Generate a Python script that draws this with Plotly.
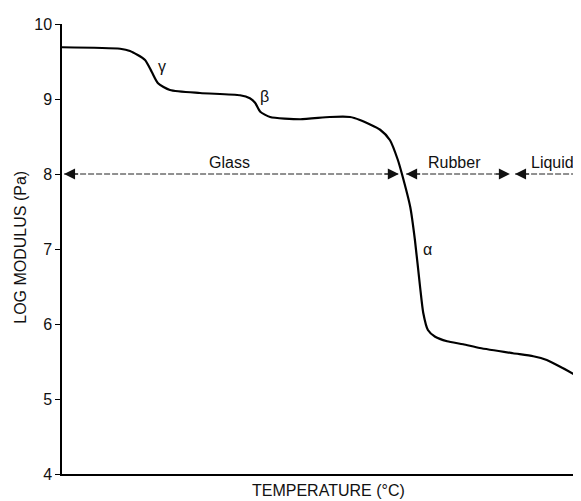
import plotly.graph_objects as go

# temperature axis has no scale in the source, so use 0..100 arbitrary units
temperature = [0, 11.2, 13.1, 16.0, 17.3, 18.5, 20.8, 26.6, 34.3, 36.2, 37.2, 38.2,
               40.1, 45.9, 51.6, 55.5, 57.4, 61.3, 63.2, 64.7, 65.5, 67.1, 68.0,
               69.0, 69.6, 70.5, 71.9, 74.2, 77.3, 80.5, 86.9, 90.8, 93.4, 96.0, 100]
log_modulus = [9.69, 9.67, 9.64, 9.52, 9.36, 9.21, 9.12, 9.08, 9.05, 9.01, 8.95, 8.83,
               8.76, 8.73, 8.76, 8.76, 8.72, 8.59, 8.45, 8.19, 8.0, 7.56, 7.12,
               6.49, 6.15, 5.92, 5.83, 5.77, 5.73, 5.68, 5.61, 5.57, 5.52, 5.43, 5.28]

# regions marked at log modulus = 8
region_names = ["Glass", "Rubber", "Liquid"]
region_start = [0.4, 66.3, 87.3]
region_end = [64.9, 86.3, 100]
region_label_x = [32.2, 75.7, 94.6]
region_level = 8

# relaxation labels
relax_names = ["γ", "β", "α"]
relax_x = [19.3, 39.1, 70.5]
relax_y = [9.43, 9.03, 6.99]

font = "Liberation Sans"

fig = go.Figure()

fig.add_trace(go.Scatter(
    x=temperature, y=log_modulus, mode="lines",
    line=dict(color="black", width=2.2, shape="spline", smoothing=0.6),
    hoverinfo="skip", showlegend=False,
))

# dashed level lines
for s, e in zip(region_start, region_end):
    fig.add_trace(go.Scatter(
        x=[s, e], y=[region_level, region_level], mode="lines",
        line=dict(color="#222", width=1, dash="6px,2px"),
        hoverinfo="skip", showlegend=False,
    ))

# arrow heads (Liquid has none on its right end)
for i, (s, e) in enumerate(zip(region_start, region_end)):
    fig.add_annotation(x=s, y=region_level, ax=s + 3, ay=region_level,
                       xref="x", yref="y", axref="x", ayref="y", text="",
                       showarrow=True, arrowhead=2, arrowsize=2.2, arrowwidth=1,
                       arrowcolor="#111")
    if i < len(region_names) - 1:
        fig.add_annotation(x=e, y=region_level, ax=e - 3, ay=region_level,
                           xref="x", yref="y", axref="x", ayref="y", text="",
                           showarrow=True, arrowhead=2, arrowsize=2.2, arrowwidth=1,
                           arrowcolor="#111")

for name, lx in zip(region_names, region_label_x):
    fig.add_annotation(x=lx, y=region_level, text=name, showarrow=False,
                       yanchor="bottom", yshift=1,
                       font=dict(family=font, size=16, color="#111"))

for name, rx, ry in zip(relax_names, relax_x, relax_y):
    fig.add_annotation(x=rx, y=ry, text=name, showarrow=False,
                       font=dict(family=font, size=16, color="#111"))

# axis titles as annotations for exact placement
fig.add_annotation(text="LOG MODULUS (Pa)", xref="paper", yref="paper",
                   x=-0.079, y=0.505, xanchor="center", yanchor="middle",
                   textangle=-90, showarrow=False,
                   font=dict(family=font, size=16, color="#111"))
fig.add_annotation(text="TEMPERATURE (°C)", xref="paper", yref="paper",
                   x=0.513, y=-0.036, xanchor="center", yanchor="middle",
                   showarrow=False,
                   font=dict(family=font, size=16, color="#111"))

fig.update_xaxes(range=[0, 100], showgrid=False, zeroline=False,
                 showline=True, linecolor="black", linewidth=1.5,
                 showticklabels=False, ticks="")
fig.update_yaxes(range=[4, 10], showgrid=False, zeroline=False,
                 showline=True, linecolor="black", linewidth=1.5,
                 tickvals=[4, 5, 6, 7, 8, 9, 10], ticks="outside", ticklen=5,
                 tickwidth=1.2, tickcolor="black",
                 tickfont=dict(family=font, size=16, color="#111"))

# sized so the plot area lands where the reference's does
fig.update_layout(
    width=573, height=493,
    margin=dict(l=54, r=0, t=16, b=27),
    plot_bgcolor="white", paper_bgcolor="white",
)

fig.write_html("out.html")
